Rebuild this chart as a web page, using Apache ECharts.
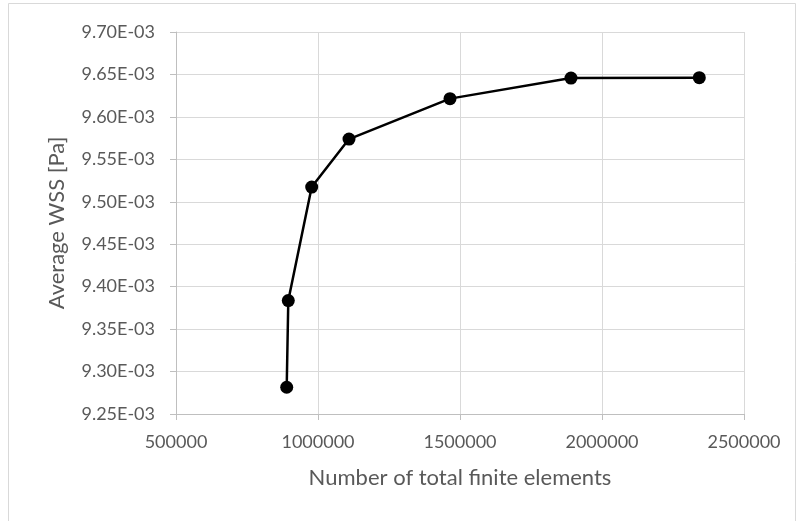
<!DOCTYPE html>
<html lang="en">
<head>
  <meta charset="UTF-8">
  <title>Mesh independence - average WSS</title>
  <style>
    html, body { margin: 0; padding: 0; background: #fff; }
    #myChart { width: 800px; height: 521px; }
  </style>
  <script src="https://cdn.jsdelivr.net/npm/echarts@6/dist/echarts.min.js"></script>
</head>
<body>
<div id="myChart"></div>
<script>
// total number of finite elements per mesh
var elements = [889800, 895400, 977800, 1109200, 1464800, 1890800, 2342600];
// average WSS, in units of 1E-03 Pa
var avgWss = [9.2815, 9.3836, 9.5173, 9.5739, 9.6215, 9.6457, 9.6462];

var FONT = 'Lato';
var myChart = echarts.init(document.getElementById('myChart'));

var option = {
  animation: false,
  backgroundColor: '#fff',
  graphic: [{
    type: 'rect',
    shape: { x: 8.5, y: 3.5, width: 787, height: 540 },
    style: { fill: 'none', stroke: '#d9d9d9', lineWidth: 1 },
    silent: true
  }],
  grid: {
    left: 176,
    right: 56,
    top: 32,
    bottom: 107,
    containLabel: false
  },
  xAxis: {
    type: 'value',
    min: 500000,
    max: 2500000,
    interval: 500000,
    name: 'Number of total finite elements',
    nameLocation: 'middle',
    nameGap: 53,
    nameTextStyle: { fontFamily: FONT, fontSize: 22, color: '#595959' },
    axisLine: { show: true, lineStyle: { color: '#bfbfbf', width: 1 } },
    axisTick: { show: true, length: 6, lineStyle: { color: '#bfbfbf' } },
    axisLabel: {
      fontFamily: FONT, fontSize: 18, color: '#595959', margin: 19,
      formatter: function (v) { return String(v); }
    },
    splitLine: { show: true, lineStyle: { color: '#d9d9d9', width: 1 } }
  },
  yAxis: {
    type: 'value',
    min: 9.25,
    max: 9.70,
    interval: 0.05,
    name: 'Average WSS [Pa]',
    nameLocation: 'middle',
    nameGap: 108,
    nameRotate: 90,
    nameTextStyle: { fontFamily: FONT, fontSize: 22, color: '#595959' },
    axisLine: { show: true, lineStyle: { color: '#bfbfbf', width: 1 } },
    axisTick: { show: true, length: 6, lineStyle: { color: '#bfbfbf' } },
    axisLabel: {
      fontFamily: FONT, fontSize: 18, color: '#595959', margin: 21,
      formatter: function (v) { return v.toFixed(2) + 'E-03'; }
    },
    splitLine: { show: true, lineStyle: { color: '#d9d9d9', width: 1 } }
  },
  series: [{
    type: 'line',
    data: elements.map(function (x, i) { return [x, avgWss[i]]; }),
    symbol: 'circle',
    symbolSize: 13,
    lineStyle: { color: '#000', width: 2.5 },
    itemStyle: { color: '#000' }
  }]
};
myChart.setOption(option);
</script>
</body>
</html>
